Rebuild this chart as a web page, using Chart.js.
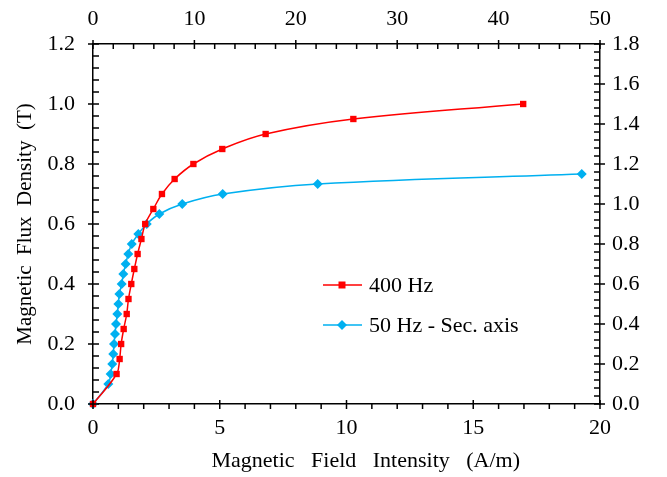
<!DOCTYPE html>
<html>
<head>
<meta charset="utf-8">
<script src="https://cdn.jsdelivr.net/npm/chart.js@4.4.1/dist/chart.umd.min.js"></script>
<style>
  html, body { margin: 0; padding: 0; background: #fff; }
</style>
</head>
<body>
<canvas id="bhChart" width="667" height="477"></canvas>
<script>
// 400 Hz curve (bottom x axis, left y axis)
const h400 = [0, 0.93, 1.05, 1.11, 1.21, 1.33, 1.4, 1.51, 1.63, 1.76, 1.91, 2.06, 2.38, 2.72, 3.22, 3.96, 5.1, 6.81, 10.27, 16.97];
const b400 = [0, 0.1, 0.15, 0.2, 0.25, 0.3, 0.35, 0.4, 0.45, 0.5, 0.55, 0.6, 0.65, 0.7, 0.75, 0.8, 0.85, 0.9, 0.95, 1.0];

// 50 Hz curve (top x axis, right y axis)
const h50 = [0, 1.51, 1.74, 1.9, 2.0, 2.07, 2.17, 2.27, 2.4, 2.5, 2.6, 2.83, 2.99, 3.22, 3.48, 3.82, 4.47, 5.3, 6.54, 8.8, 12.79, 22.16, 48.2];
const b50 = [0, 0.1, 0.15, 0.2, 0.25, 0.3, 0.35, 0.4, 0.45, 0.5, 0.55, 0.6, 0.65, 0.7, 0.75, 0.8, 0.85, 0.9, 0.95, 1.0, 1.05, 1.1, 1.15];

const seriesNames = ["400 Hz", "50 Hz - Sec. axis"];
const seriesColors = ["#ff0000", "#00b0f0"];

const FONT = "'Liberation Serif', 'Times New Roman', serif";

function toPoints(xs, ys) {
    return xs.map((x, i) => ({ x: x, y: ys[i] }));
}

// minor / major tick marks drawn like the Excel original
const tickMarks = {
    id: "tickMarks",
    afterDraw(chart) {
        const ctx = chart.ctx;
        const a = chart.chartArea;
        const specs = [
            { id: "x", minor: 1, major: 5, side: "bottom" },
            { id: "x2", minor: 2, major: 10, side: "top" },
            { id: "y", minor: 0.04, major: 0.2, side: "left" },
            { id: "y2", minor: 0.04, major: 0.2, side: "right" }
        ];
        ctx.save();
        ctx.strokeStyle = "#000";
        ctx.lineWidth = 1.5;
        specs.forEach(s => {
            const sc = chart.scales[s.id];
            const n = Math.round((sc.max - sc.min) / s.minor);
            for (let i = 0; i <= n; i++) {
                const v = sc.min + i * s.minor;
                const isMajor = Math.abs(v / s.major - Math.round(v / s.major)) < 1e-6;
                const p = sc.getPixelForValue(v);
                ctx.beginPath();
                if (s.side === "bottom") {
                    ctx.moveTo(p, a.bottom + (isMajor ? -4 : 0));
                    ctx.lineTo(p, a.bottom + 5);
                } else if (s.side === "top") {
                    ctx.moveTo(p, a.top - (isMajor ? 4 : 0));
                    ctx.lineTo(p, a.top + 5);
                } else if (s.side === "left") {
                    ctx.moveTo(a.left - (isMajor ? 5 : 0), p);
                    ctx.lineTo(a.left + 6, p);
                } else {
                    ctx.moveTo(a.right + (isMajor ? 5 : 0), p);
                    ctx.lineTo(a.right - 6, p);
                }
                ctx.stroke();
            }
        });
        ctx.restore();
    }
};

// legend drawn inside the plot area
const innerLegend = {
    id: "innerLegend",
    afterDraw(chart) {
        const ctx = chart.ctx;
        const rows = [285, 325];
        ctx.save();
        ctx.font = "22px " + FONT;
        ctx.textBaseline = "middle";
        chart.data.datasets.forEach((ds, i) => {
            const y = rows[i];
            ctx.strokeStyle = ds.borderColor;
            ctx.lineWidth = 1.5;
            ctx.beginPath();
            ctx.moveTo(323, y);
            ctx.lineTo(362, y);
            ctx.stroke();
            ctx.fillStyle = ds.backgroundColor;
            ctx.beginPath();
            if (ds.pointStyle === "rect") {
                ctx.rect(338.5, y - 3.5, 7, 7);
            } else {
                ctx.moveTo(342, y - 5);
                ctx.lineTo(347, y);
                ctx.lineTo(342, y + 5);
                ctx.lineTo(337, y);
                ctx.closePath();
            }
            ctx.fill();
            ctx.fillStyle = "#000";
            ctx.fillText(ds.label, 369, y + 1);
        });
        ctx.restore();
    }
};

function axisBase() {
    return {
        type: "linear",
        grid: { display: true, drawOnChartArea: false, drawTicks: false },
        border: { display: true, color: "#000", width: 1.5 },
        ticks: { color: "#000", font: { family: FONT, size: 22 } }
    };
}

const xAxis = Object.assign(axisBase(), {
    position: "bottom", min: 0, max: 20,
    title: { display: true, text: "       Magnetic   Field   Intensity   (A/m)", color: "#000",
             font: { family: FONT, size: 22 }, padding: { top: 0, bottom: 3 } },
    afterFit(s) { s.height = 73; }
});
xAxis.ticks = Object.assign(xAxis.ticks, { stepSize: 5, padding: 11 });

const x2Axis = Object.assign(axisBase(), {
    position: "top", min: 0, max: 50,
    afterFit(s) { s.height = 44; }
});
x2Axis.ticks = Object.assign(x2Axis.ticks, { stepSize: 10, padding: 12 });

const yAxis = Object.assign(axisBase(), {
    position: "left", min: 0, max: 1.2,
    title: { display: true, text: "Magnetic  Flux  Density  (T)", color: "#000",
             font: { family: FONT, size: 21 }, padding: { top: 13, bottom: 0 } },
    afterFit(s) { s.width = 93; }
});
yAxis.ticks = Object.assign(yAxis.ticks, { stepSize: 0.2, padding: 18,
    callback: v => v.toFixed(1) });

const y2Axis = Object.assign(axisBase(), {
    position: "right", min: 0, max: 1.8,
    afterFit(s) { s.width = 67; }
});
y2Axis.ticks = Object.assign(y2Axis.ticks, { stepSize: 0.2, padding: 12,
    callback: v => v.toFixed(1) });

new Chart(document.getElementById("bhChart").getContext("2d"), {
    type: "scatter",
    data: {
        datasets: [
            {
                label: seriesNames[0],
                data: toPoints(h400, b400),
                xAxisID: "x", yAxisID: "y",
                showLine: true, tension: 0.4, clip: false,
                borderColor: seriesColors[0], backgroundColor: seriesColors[0],
                borderWidth: 1.5,
                pointStyle: "rect", pointRadius: 4.5, pointBorderWidth: 0
            },
            {
                label: seriesNames[1],
                data: toPoints(h50, b50),
                xAxisID: "x2", yAxisID: "y2",
                showLine: true, tension: 0.4, clip: false,
                borderColor: seriesColors[1], backgroundColor: seriesColors[1],
                borderWidth: 1.5,
                pointStyle: "rectRot", pointRadius: 5, pointBorderWidth: 0
            }
        ]
    },
    options: {
        responsive: false,
        animation: false,
        layout: { padding: 0 },
        plugins: { legend: { display: false }, tooltip: { enabled: false } },
        scales: { x: xAxis, x2: x2Axis, y: yAxis, y2: y2Axis }
    },
    plugins: [tickMarks, innerLegend]
});
</script>
</body>
</html>
